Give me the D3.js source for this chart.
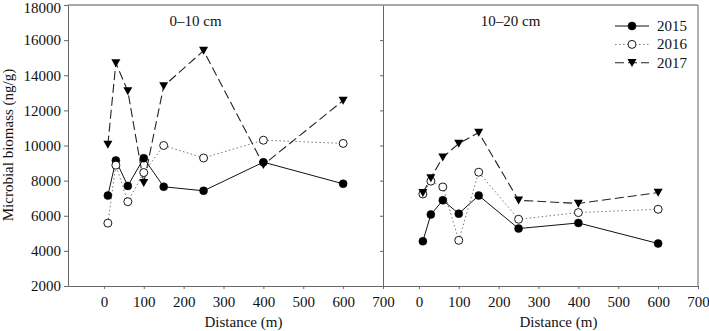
<!DOCTYPE html>
<html>
<head>
<meta charset="utf-8">
<script src="https://cdn.jsdelivr.net/npm/d3@7"></script>
<style>
  body { margin: 0; background: #fff; }
  text { font-family: "Liberation Serif", "Times New Roman", serif; fill: #111; }
</style>
</head>
<body>
<div id="chart"></div>
<script>
var distances = [10, 30, 60, 100, 150, 250, 400, 600];
var years = ["2015", "2016", "2017"];
var panels = ["0\u201310 cm", "10\u201320 cm"];

// 0-10 cm
var top2015 = [7150, 9150, 7700, 9280, 7650, 7420, 9050, 7820];
var top2016 = [5580, 8880, 6800, 8460, 10000, 9290, 10300, 10120];
var top2017 = [10050, 14700, 13100, 7870, 13380, 15400, 8900, 12560];

// 10-20 cm
var sub2015 = [4550, 6070, 6880, 6120, 7150, 5270, 5590, 4420];
var sub2016 = [7240, 7970, 7640, 4600, 8480, 5800, 6180, 6370];
var sub2017 = [7300, 8150, 9330, 10110, 10740, 6880, 6700, 7320];

var xTicks = [0, 100, 200, 300, 400, 500, 600, 700];
var yTicks = [2000, 4000, 6000, 8000, 10000, 12000, 14000, 16000, 18000];

var panelData = [[top2015, top2016, top2017], [sub2015, sub2016, sub2017]];

var width = 709, height = 331;
var plotTop = 5, plotBottom = 286;
var panelLeft = [68, 383], panelWidth = 315;

var svg = d3.select("#chart").append("svg")
    .attr("width", width)
    .attr("height", height);

var y = d3.scaleLinear().domain([2000, 18000]).range([plotBottom, plotTop]);

var styles = [
    { dash: null, stroke: "#111", width: 1, fill: "#000", symbol: "circle" },
    { dash: "1.5,2.5", stroke: "#777", width: 1, fill: "#fff", symbol: "circle" },
    { dash: "9,4", stroke: "#222", width: 1.1, fill: "#000", symbol: "tri" }
];

function drawMarker(g, sx, sy, st) {
    if (st.symbol === "circle") {
        g.append("circle")
            .attr("cx", sx).attr("cy", sy).attr("r", 4)
            .attr("fill", st.fill)
            .attr("stroke", "#000")
            .attr("stroke-width", st.fill === "#fff" ? 0.9 : 0.5);
    } else {
        g.append("path")
            .attr("d", "M" + (sx - 4.5) + "," + (sy - 3.8) + "L" + (sx + 4.5) + "," + (sy - 3.8) + "L" + sx + "," + (sy + 4.2) + "Z")
            .attr("fill", "#000");
    }
}

panels.forEach(function(title, p) {
    var x = d3.scaleLinear().domain([-90, 700]).range([panelLeft[p], panelLeft[p] + panelWidth]);
    var g = svg.append("g");

    // x axis
    var xAxis = g.append("g")
        .attr("transform", "translate(0," + plotBottom + ")")
        .call(d3.axisBottom(x).tickValues(xTicks).tickSize(3).tickPadding(7).tickSizeOuter(0).tickFormat(d3.format("d")));
    xAxis.select(".domain").attr("stroke", "#666");
    xAxis.selectAll(".tick line").attr("stroke", "#666");
    xAxis.selectAll("text").style("font-size", "15px").attr("fill", "#111");

    if (p === 0) {
        var yAxis = g.append("g")
            .attr("transform", "translate(" + panelLeft[0] + ",0)")
            .call(d3.axisLeft(y).tickValues(yTicks).tickSize(4).tickPadding(3).tickSizeOuter(0).tickFormat(d3.format("d")));
        yAxis.select(".domain").attr("stroke", "#666");
        yAxis.selectAll(".tick line").attr("stroke", "#666");
        yAxis.selectAll("text").style("font-size", "15px").attr("fill", "#111");
        yAxis.selectAll(".tick text").filter(function(d) { return d === 18000; }).attr("dy", "0.38em").attr("y", 1.5);

        // inner ticks on the divider
        var yRight = g.append("g")
            .attr("transform", "translate(" + (panelLeft[0] + panelWidth) + ",0)")
            .call(d3.axisRight(y).tickValues(yTicks.slice(1, -1)).tickSize(-3).tickFormat("").tickSizeOuter(0));
        yRight.select(".domain").attr("stroke", "#666");
        yRight.selectAll(".tick line").attr("stroke", "#666");
    } else {
        g.append("line")
            .attr("x1", panelLeft[1] + panelWidth).attr("x2", panelLeft[1] + panelWidth)
            .attr("y1", plotTop).attr("y2", plotBottom)
            .attr("stroke", "#666");
    }

    // top border
    g.append("line")
        .attr("x1", panelLeft[p]).attr("x2", panelLeft[p] + panelWidth)
        .attr("y1", plotTop).attr("y2", plotTop)
        .attr("stroke", "#555");

    g.append("text")
        .attr("x", x(230))
        .attr("y", 26)
        .attr("text-anchor", "middle")
        .style("font-size", "15px")
        .text(title);

    g.append("text")
        .attr("x", x(350))
        .attr("y", 327)
        .attr("text-anchor", "middle")
        .style("font-size", "15px")
        .text("Distance (m)");

    var line = d3.line()
        .x(function(d, i) { return x(distances[i]); })
        .y(function(d) { return y(d); });

    panelData[p].forEach(function(vals, s) {
        var st = styles[s];
        g.append("path")
            .datum(vals)
            .attr("d", line)
            .attr("fill", "none")
            .attr("stroke", st.stroke)
            .attr("stroke-width", st.width)
            .attr("stroke-dasharray", st.dash);
    });
    panelData[p].forEach(function(vals, s) {
        vals.forEach(function(v, i) {
            drawMarker(g, x(distances[i]), y(v), styles[s]);
        });
    });
});

svg.append("text")
    .attr("transform", "translate(13,145) rotate(-90)")
    .attr("text-anchor", "middle")
    .style("font-size", "15px")
    .text("Microbial biomass (ng/g)");

// legend
var legend = svg.append("g");
years.forEach(function(yr, s) {
    var ly = 26 + s * 18.4;
    var st = styles[s];
    legend.append("line")
        .attr("x1", 615).attr("x2", 649)
        .attr("y1", ly).attr("y2", ly)
        .attr("stroke", st.stroke)
        .attr("stroke-width", st.width)
        .attr("stroke-dasharray", st.dash);
    drawMarker(legend, 632, ly, st);
    legend.append("text")
        .attr("x", 657)
        .attr("y", ly + 5)
        .style("font-size", "15px")
        .text(yr);
});
</script>
</body>
</html>
